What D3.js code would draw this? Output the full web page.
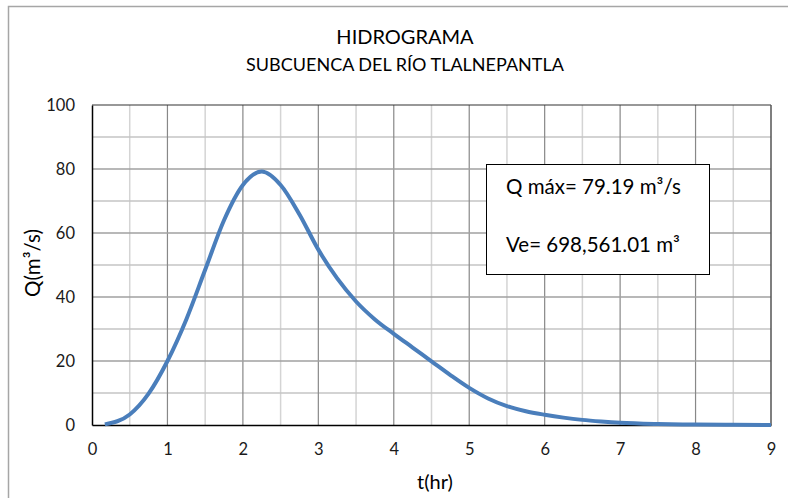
<!DOCTYPE html>
<html>
<head>
<meta charset="utf-8">
<script src="https://cdn.jsdelivr.net/npm/d3@7/dist/d3.min.js"></script>
<style>
  html, body { margin: 0; padding: 0; background: #fff; }
  svg { display: block; font-family: Lato, "Open Sans", sans-serif; }
</style>
</head>
<body>
<svg id="chart" width="788" height="498"></svg>
<script>
// Hydrograph of the Tlalnepantla river sub-basin
const timeHr = [0.17, 0.5, 0.75, 1.0, 1.25, 1.5, 1.75, 2.0, 2.25, 2.5, 2.75, 3.0, 3.25, 3.5, 3.75, 4.0, 4.25, 4.5, 4.75, 5.0, 5.25, 5.5, 5.75, 6.0, 6.25, 6.5, 6.75, 7.0, 7.5, 8.0, 8.5, 9.0];
const flowQ  = [0.2, 3.3, 9.8, 20.0, 33.0, 48.5, 64.0, 75.0, 79.19, 75.0, 65.8, 54.8, 45.8, 38.6, 33.0, 28.5, 24.2, 19.9, 15.6, 11.6, 8.3, 5.9, 4.3, 3.2, 2.3, 1.6, 1.1, 0.7, 0.3, 0.12, 0.04, 0.0];
const xTicks = [0, 1, 2, 3, 4, 5, 6, 7, 8, 9];
const yTicks = [0, 20, 40, 60, 80, 100];
const titleText = "HIDROGRAMA";
const subtitleText = "SUBCUENCA DEL RÍO TLALNEPANTLA";
const qMax = "79.19";
const volume = "698,561.01";

const svg = d3.select("#chart");
const plot = { left: 92, right: 771, top: 105, bottom: 425 };

const x = d3.scaleLinear().domain([0, 9]).range([plot.left, plot.right]);
const y = d3.scaleLinear().domain([0, 100]).range([plot.bottom, plot.top]);

// outer chart frame
svg.append("rect")
  .attr("x", 8.5).attr("y", 6.5).attr("width", 800).attr("height", 500)
  .attr("fill", "#fff").attr("stroke", "#a6a6a6").attr("stroke-width", 1.5);

// titles
svg.append("text").attr("x", 405).attr("y", 44).attr("text-anchor", "middle")
  .attr("font-size", 20).attr("fill", "#000").text(titleText);
svg.append("text").attr("x", 405).attr("y", 71).attr("text-anchor", "middle")
  .attr("font-size", 18).attr("fill", "#000").text(subtitleText);

const grid = svg.append("g");
// minor gridlines (half steps)
d3.range(0.5, 9, 1).forEach(v => {
  grid.append("line").attr("x1", x(v)).attr("x2", x(v)).attr("y1", plot.top).attr("y2", plot.bottom)
    .attr("stroke", "#d4d4d4").attr("stroke-width", 1.5);
});
d3.range(10, 100, 20).forEach(v => {
  grid.append("line").attr("x1", plot.left).attr("x2", plot.right).attr("y1", y(v)).attr("y2", y(v))
    .attr("stroke", "#c4c4c4").attr("stroke-width", 1.5);
});
// major gridlines
xTicks.slice(1, -1).forEach(v => {
  grid.append("line").attr("x1", x(v)).attr("x2", x(v)).attr("y1", plot.top).attr("y2", plot.bottom)
    .attr("stroke", "#888").attr("stroke-width", 1.2);
});
yTicks.slice(1, -1).forEach(v => {
  grid.append("line").attr("x1", plot.left).attr("x2", plot.right).attr("y1", y(v)).attr("y2", y(v))
    .attr("stroke", "#a0a0a0").attr("stroke-width", 1.5);
});

// plot frame: top and right
svg.append("line").attr("x1", plot.left).attr("x2", plot.right).attr("y1", plot.top).attr("y2", plot.top)
  .attr("stroke", "#333").attr("stroke-width", 1.2);
svg.append("line").attr("x1", plot.right).attr("x2", plot.right).attr("y1", plot.top).attr("y2", plot.bottom)
  .attr("stroke", "#555").attr("stroke-width", 1.5);

// axes
const xAxis = svg.append("g").attr("transform", `translate(0,${plot.bottom})`)
  .call(d3.axisBottom(x).tickValues(xTicks).tickSize(0).tickPadding(18).tickFormat(d3.format("d")));
const yAxis = svg.append("g").attr("transform", `translate(${plot.left},0)`)
  .call(d3.axisLeft(y).tickValues(yTicks).tickSize(0).tickPadding(17).tickFormat(d3.format("d")));
[xAxis, yAxis].forEach(a => {
  a.select(".domain").attr("stroke", "#000").attr("stroke-width", 1.5);
  a.selectAll("text").attr("font-size", 16.5).attr("fill", "#1a1a1a").attr("font-family", "Lato, sans-serif");
});

// hydrograph curve
const line = d3.line()
  .x((d, i) => x(timeHr[i]))
  .y(d => y(d))
  .curve(d3.curveMonotoneX);
svg.append("path").datum(flowQ)
  .attr("d", line)
  .attr("fill", "none")
  .attr("stroke", "#4a7ebb")
  .attr("stroke-width", 4)
  .attr("stroke-linecap", "butt");

// axis titles
svg.append("text").attr("x", 435).attr("y", 489).attr("text-anchor", "middle")
  .attr("font-size", 20).attr("fill", "#000").text("t(hr)");
svg.append("text").attr("transform", "translate(40,263) rotate(-90)").attr("text-anchor", "middle")
  .attr("font-size", 20.5).attr("fill", "#000").text("Q(m³/s)");

// summary box
const box = svg.append("g");
box.append("rect").attr("x", 486.5).attr("y", 164.5).attr("width", 223).attr("height", 110)
  .attr("fill", "#fff").attr("stroke", "#000").attr("stroke-width", 1);
box.append("text").attr("x", 506).attr("y", 194).attr("font-size", 20.5).attr("fill", "#000")
  .text(`Q máx= ${qMax} m³/s`);
box.append("text").attr("x", 506).attr("y", 252).attr("font-size", 20.5).attr("fill", "#000")
  .text(`Ve= ${volume}  m³`);
</script>
</body>
</html>
